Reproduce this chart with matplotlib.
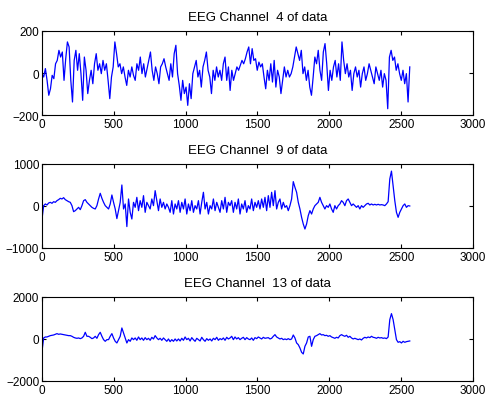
import numpy as np
import matplotlib
matplotlib.use('Agg')
from matplotlib import pyplot as plt

plt.rcParams['font.family'] = ['Liberation Sans', 'DejaVu Sans']

n_samples = 2560
channels = [4, 9, 13]
ylims = [200, 1000, 2000]

# values, roughly every 12 samples
ch4 = [-3, -19, 21, -35, -106, -75, -11, -27, 44, 60, 108, 76, 100, -35, 68, 148, 124, -35, -138, 60,
       108, 13, 92, -3, -130, 76, 13, -98, -35, 13, -51, 44, 92, 13, 44, -3, 60, 13, 44, -35,
       -122, -19, 29, 148, 92, 29, 44, -3, 29, -19, -59, 13, -19, 29, -11, -35, 44, 13, 76, -3,
       44, -19, 21, 60, 100, 13, -35, 29, -3, -51, 29, 44, 68, 29, -3, -35, 44, -19, 92, 132,
       -3, -59, -130, -35, -98, -67, -154, -51, -122, -3, 29, 60, -19, 13, -67, 29, 60, 100, 13, -19,
       -98, 13, -35, 29, -19, 13, -35, 44, 76,
       -35, 29, -83, 13, -35, -3, 29, 13, 37, 60, 44, 68, 100, 124, 44, 116, 60, 68, 13, 52,
       29, 44, -19, -75, 13, -35, 44, -43, 60, -67, 13, -19, -98, -35, 29, -19, 13, -19, -3, 29,
       76, 124, 92, 60, 108, -3, 29, -35, 13, -67, -106, -19, 76, 44, 108, 13, -35, 100, 140, 44,
       -83, 13, -35, 29, 60, -19, 44, -35, 148, 60, -3, 44, -19, 13, -83, -3, 29, -19, 13, -67,
       -3, 29, -35, -3, 44, 13, -19, -51, 29, -3, -35, 13, -67, -3, -35, -170, 76, 108, 60, 76,
       13, 44, -3, -35, 13, -51, -3, -138, 29]

ch9 = [-310, 8, 48, 24, 71, 87, 64, 103, 87, 127, 151, 183, 167, 198, 151, 127, 103, 87, 8, -135,
       -111, -71, -32, -87, 8, 127, 151, 87, 48, 8, -32, -56, -71, 8, 167, 302, 183, 87, 8, -32,
       -71, 48, 262, 87, -71, -300, -111, 87, 500, -71, 48, -490, 167, -151, -310, 87, -32, 206, -111, 127,
       -32, 246, -151, 87, 8, -71, 167, 8, 365, 127, -111, 167, -32, 87, -71, 48, -32, -151, 127, -191,
       48, -71, 127, -151, 87, -71, 167, -191, 48, -111, 127, -151, 8, -71, 127, -191, 87, 326, -71, 87,
       -191, 8, -71, 167, -111, 87, -32, -151, 127, -71, 206, -151, 87,
       8, 127, -151, 87, -71, 167, -191, 48, -71, 127, -151, 8, -71, 167, -111, 87, -32, 127, -71, 167,
       -32, 206, -111, 246, -32, 326, 8, 365, -71, 87, 167, -71, 87, -32, 8, -111, 8, 167, 580, 445,
       326, 87, -71, -270, -429, -548, -429, -230, -111, -191, -71, 8, 48, 87, 206, 87, 8, -71, 8, -32,
       48, -71, -151, 8, -71, 8, 48, 127, 87, 8, 127, 167, 87, 8, 48, 8, -32, 8, -71, 8,
       -32, 8, 48, 64, 24, 48, 24, 40, 24, 40, 24, 32, 24, 8, 48, 103, 643, 830, 484, 127,
       -151, -270, -151, -71, 8, 48, -32, 8, 0]

ch13 = [-587, 48, 95, 95, 127, 159, 175, 190, 222, 254, 222, 238, 222, 206, 190, 175, 159, 159, 127, 79,
        48, 32, 48, 16, 48, 127, 317, 127, 127, 79, 16, 48, 127, 32, 206, 317, 127, -32, -111, -32,
        -32, 127, 254, 48, -111, -190, -32, 127, 524, 286, 48, -190, -32, -111, 48, -32, 48, -63, 95, -32,
        48, -63, 63, -32, 32, -63, 79, 0, 159, 48, -32, 32, -63, 48, -32, -111, 0, -127, -32, -111,
        0, -95, 0, -95, 32, -63, 95, -32, 32, -95, 63, -32, -111, 32, -32, -95, 79, -32, -111, 16,
        -63, 0, -95, 32, -32, 79, -63, 16, -32, 48, -63, 79, 0,
        48, 127, -32, 95, 0, 63, -32, 32, 79, -32, 63, 0, -32, 48, -63, 63, 16, 95, 48, 0,
        79, 32, 48, 63, 0, 32, 127, 206, 95, 48, 0, 32, -32, 0, -32, 16, -32, 0, 190, 48,
        -190, -270, -428, -635, -714, -349, -190, 95, 127, -349, -32, 127, 159, 206, 254, 190, 206, 159, 175, 127,
        159, 95, 63, 32, 79, 48, 159, 206, 159, 127, 175, 79, 127, 48, 0, 32, 0, -32, 0, -48,
        32, 79, 48, 95, 63, 127, 79, 63, 32, 79, 48, 63, 32, 48, 16, 95, 920, 1206, 920, 444,
        -32, -159, -127, -190, -111, -159, -127, -111, -95]

data = [ch4, ch9, ch13]

fig = plt.figure(figsize=(4.86, 4.02), dpi=100)
bottoms = [0.7114, 0.3806, 0.0498]

for i in range(3):
    ax = fig.add_axes([0.0864, bottoms[i], 0.8868, 0.209])
    y = np.array(data[i])
    x = np.linspace(0, n_samples, len(y))
    ax.plot(x, y, color='#0000ff', linewidth=0.9)
    ax.set_xlim(0, 3000)
    ax.set_ylim(-ylims[i], ylims[i])
    ax.set_xticks(np.arange(0, 3001, 500))
    ax.set_yticks([-ylims[i], 0, ylims[i]])
    ax.tick_params(direction='in', top=True, right=True, labelsize=8.5, length=3, pad=2)
    ax.set_title('EEG Channel  %d of data' % channels[i], fontsize=9.5, pad=8)

plt.savefig('out.png', dpi=100)
print('*** done ***')
